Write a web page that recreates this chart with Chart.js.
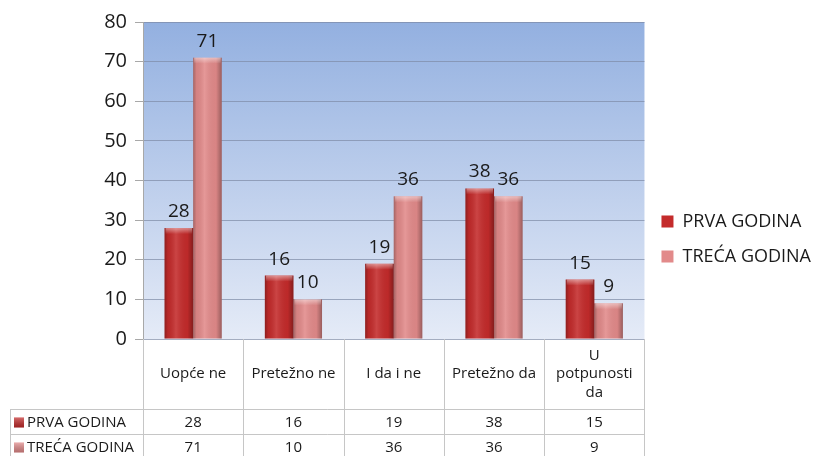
<!DOCTYPE html>
<html><head><meta charset="utf-8">
<script src="https://cdn.jsdelivr.net/npm/chart.js@4/dist/chart.umd.min.js"></script>
<style>html,body{margin:0;padding:0;background:#fff;}#wrap{width:828px;height:456px;}</style>
</head><body><div id="wrap"><canvas id="c" width="828" height="456"></canvas></div>
<script>
const categories = ["Uopće ne", "Pretežno ne", "I da i ne", "Pretežno da", "U potpunosti da"];
const categoryLines = [["Uopće ne"], ["Pretežno ne"], ["I da i ne"], ["Pretežno da"], ["U", "potpunosti", "da"]];
const seriesNames = ["PRVA GODINA", "TREĆA GODINA"];
const prvaGodina = [28, 16, 19, 38, 15];
const trecaGodina = [71, 10, 36, 36, 9];
const yMin = 0, yMax = 80, yStep = 10;

const seriesColors = ["#c42b2b", "#e28a8a"];
const FONT = "'Open Sans', 'DejaVu Sans', sans-serif";
const TEXT = "#1a1a1a";

const decorPlugin = {
  id: 'decor',
  beforeDraw(chart) {
    const {ctx, chartArea: a} = chart;
    const g = ctx.createLinearGradient(0, a.top, 0, a.bottom);
    g.addColorStop(0, '#93b0e0');
    g.addColorStop(1, '#e5ebf7');
    ctx.save();
    ctx.fillStyle = g;
    ctx.fillRect(a.left, a.top, a.right - a.left, a.bottom - a.top);
    ctx.restore();
  },
  afterDatasetsDraw(chart) {
    const ctx = chart.ctx;
    ctx.save();
    chart.data.datasets.forEach((ds, di) => {
      const meta = chart.getDatasetMeta(di);
      meta.data.forEach((el, i) => {
        const p = el.getProps(['x', 'y', 'base', 'width'], true);
        const l = p.x - p.width / 2, w = p.width, t = p.y, h = p.base - p.y;
        const g = ctx.createLinearGradient(l, 0, l + w, 0);
        g.addColorStop(0, 'rgba(0,0,0,0.28)');
        g.addColorStop(0.12, 'rgba(0,0,0,0.06)');
        g.addColorStop(0.4, 'rgba(255,255,255,0.12)');
        g.addColorStop(0.8, 'rgba(0,0,0,0.04)');
        g.addColorStop(1, 'rgba(0,0,0,0.32)');
        ctx.fillStyle = g;
        ctx.fillRect(l, t, w, h);
        const g2 = ctx.createLinearGradient(0, t, 0, t + 6);
        g2.addColorStop(0, 'rgba(255,255,255,0.45)');
        g2.addColorStop(1, 'rgba(255,255,255,0)');
        ctx.fillStyle = g2;
        ctx.fillRect(l + 1, t, w - 2, 6);
        ctx.fillStyle = TEXT;
        ctx.font = "19px " + FONT;
        ctx.textAlign = 'center';
        ctx.textBaseline = 'alphabetic';
        ctx.fillText(String(ds.data[i]), p.x, t - 11);
      });
    });
    ctx.restore();
  },
  afterDraw(chart) {
    const {ctx, chartArea: a} = chart;
    const xs = chart.scales.x;
    const n = categories.length;
    const cw = (a.right - a.left) / n;
    const H = chart.height;
    const rowTop = 409, rowH = 25, tableLeft = 10;
    ctx.save();
    ctx.strokeStyle = '#c6c6c6';
    ctx.lineWidth = 1;
    ctx.beginPath();
    for (let i = 0; i <= n; i++) {
      const x = Math.round(a.left + i * cw) + 0.5;
      ctx.moveTo(x, a.bottom); ctx.lineTo(x, H);
    }
    ctx.moveTo(tableLeft + 0.5, rowTop); ctx.lineTo(tableLeft + 0.5, H);
    for (let r = 0; r <= seriesNames.length; r++) {
      const y = rowTop + r * rowH + 0.5;
      ctx.moveTo(tableLeft, y); ctx.lineTo(a.right, y);
    }
    ctx.stroke();
    ctx.fillStyle = TEXT;
    ctx.font = "15px " + FONT;
    ctx.textAlign = 'center';
    ctx.textBaseline = 'middle';
    const headC = 374, lh = 18.5;
    categoryLines.forEach((lines, i) => {
      const cx = xs.getPixelForValue(i);
      const y0 = headC - (lines.length - 1) * lh / 2;
      lines.forEach((t, k) => ctx.fillText(t, cx, y0 + k * lh));
    });
    const rows = [prvaGodina, trecaGodina];
    rows.forEach((vals, r) => {
      const cy = rowTop + r * rowH + rowH / 2 + 1;
      ctx.fillStyle = chart.data.datasets[r].backgroundColor;
      ctx.fillRect(14, cy - 5, 10, 10);
      const sg = ctx.createLinearGradient(0, cy - 5, 0, cy + 5);
      sg.addColorStop(0, 'rgba(255,255,255,0.3)');
      sg.addColorStop(1, 'rgba(0,0,0,0.2)');
      ctx.fillStyle = sg;
      ctx.fillRect(14, cy - 5, 10, 10);
      ctx.fillStyle = TEXT;
      ctx.textAlign = 'left';
      ctx.fillText(seriesNames[r], 27, cy);
      ctx.textAlign = 'center';
      vals.forEach((v, i) => ctx.fillText(String(v), xs.getPixelForValue(i), cy));
    });
    ctx.restore();
  }
};

new Chart(document.getElementById('c'), {
  type: 'bar',
  data: {
    labels: categories,
    datasets: [
      {label: seriesNames[0], data: prvaGodina, backgroundColor: seriesColors[0], borderWidth: 0},
      {label: seriesNames[1], data: trecaGodina, backgroundColor: seriesColors[1], borderWidth: 0}
    ]
  },
  options: {
    responsive: false,
    animation: false,
    devicePixelRatio: 1,
    layout: {padding: {top: 22, left: 0, right: 7, bottom: 0}},
    datasets: {bar: {categoryPercentage: 0.57, barPercentage: 1.0}},
    scales: {
      x: {
        grid: {display: false, drawTicks: false},
        border: {display: false},
        ticks: {display: false},
        afterFit(s) { s.height = 117; }
      },
      y: {
        min: yMin, max: yMax,
        ticks: {stepSize: yStep, padding: 8, color: TEXT, font: {family: FONT, size: 20}},
        grid: {color: 'rgba(125,138,165,0.7)', tickLength: 8, tickColor: '#a8a8a8'},
        border: {color: '#a8a8a8'},
        afterFit(s) { s.width = 143; }
      }
    },
    plugins: {
      legend: {
        position: 'right',
        labels: {boxWidth: 12, boxHeight: 12, padding: 17, color: TEXT, font: {family: FONT, size: 18}}
      },
      tooltip: {enabled: false}
    }
  },
  plugins: [decorPlugin]
});
</script>
</body></html>
